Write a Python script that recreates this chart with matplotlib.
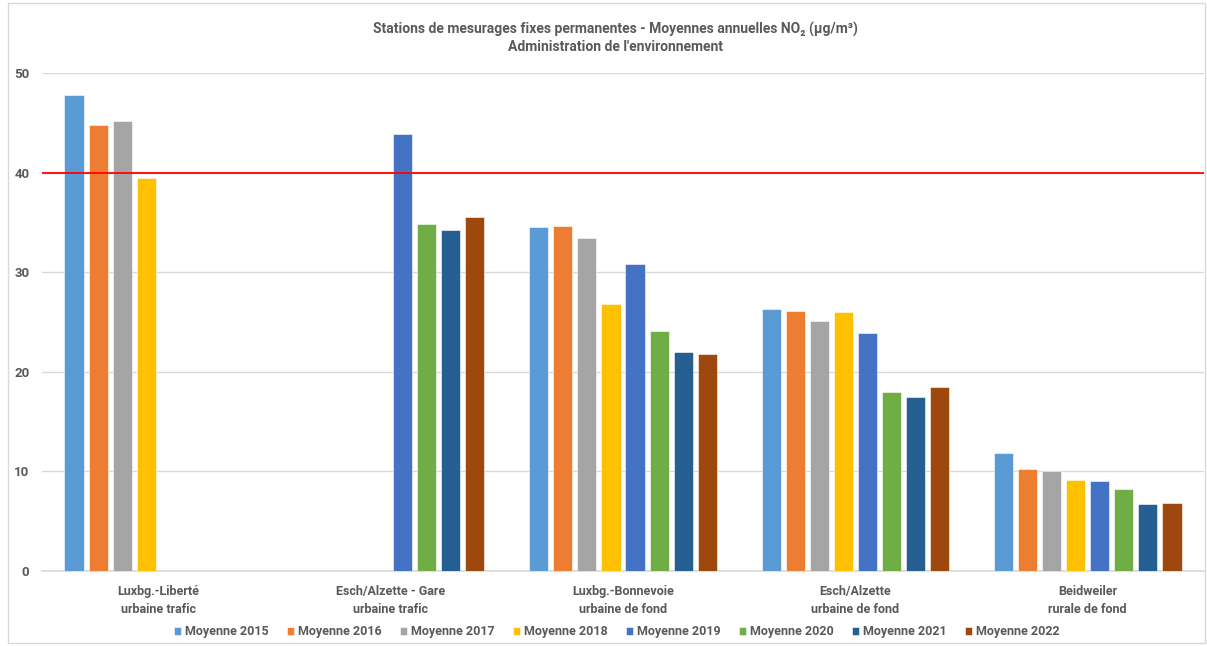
import matplotlib
matplotlib.use('Agg')
import matplotlib.pyplot as plt
from matplotlib.patches import Rectangle
import numpy as np

plt.rcParams['font.family'] = ['Roboto', 'DejaVu Sans']

stations = ['Luxbg.-Liberté\nurbaine trafic', 'Esch/Alzette - Gare\nurbaine trafic',
            'Luxbg.-Bonnevoie\nurbaine de fond', 'Esch/Alzette\nurbaine de fond',
            'Beidweiler\nrurale de fond']
years = ['Moyenne 2015', 'Moyenne 2016', 'Moyenne 2017', 'Moyenne 2018',
         'Moyenne 2019', 'Moyenne 2020', 'Moyenne 2021', 'Moyenne 2022']
colors = ['#5B9BD5', '#ED7D31', '#A5A5A5', '#FFC000',
          '#4472C4', '#70AD47', '#255E91', '#9E480E']

# une liste par année (nan = pas de mesure)
nan = np.nan
m2015 = [47.8, nan, 34.5, 26.3, 11.8]
m2016 = [44.8, nan, 34.6, 26.1, 10.2]
m2017 = [45.2, nan, 33.4, 25.1, 10.0]
m2018 = [39.5, nan, 26.8, 26.0, 9.1]
m2019 = [nan, 43.9, 30.8, 23.9, 9.0]
m2020 = [nan, 34.8, 24.1, 18.0, 8.2]
m2021 = [nan, 34.2, 22.0, 17.5, 6.7]
m2022 = [nan, 35.5, 21.8, 18.5, 6.8]
series = [m2015, m2016, m2017, m2018, m2019, m2020, m2021, m2022]
limite = 40  # valeur limite annuelle

grey = '#595959'

fig = plt.figure(figsize=(12.07, 6.46), dpi=100)
ax = fig.add_axes([42 / 1207, 1 - 571 / 646, (1204 - 42) / 1207, (571 - 73) / 646])

x = np.arange(len(stations))
step = 0.1035
width = 0.082
for i, (vals, col, lab) in enumerate(zip(series, colors, years)):
    ax.bar(x + (i - 3.5) * step, vals, width, color=col, label=lab,
           edgecolor='white', linewidth=0.4, zorder=3)

ax.axhline(limite, color='#FF0000', lw=1.3, zorder=4)

ax.set_xlim(-0.5, len(stations) - 0.5)
ax.set_ylim(0, 50)
ax.set_yticks(np.arange(0, 51, 10))
ax.grid(axis='y', color='#D9D9D9', lw=1, zorder=0)
ax.set_xticks(x)
ax.set_xticklabels(stations, fontsize=9, fontweight='bold', color=grey, linespacing=1.5)
ax.tick_params(axis='both', length=0, labelcolor=grey)
ax.tick_params(axis='x', pad=10)
ax.tick_params(axis='y', pad=9)
for t in ax.get_yticklabels():
    t.set_fontsize(9.5)
    t.set_fontweight('bold')
for s in ['top', 'right', 'left']:
    ax.spines[s].set_visible(False)
ax.spines['bottom'].set_color('#D9D9D9')
ax.spines['bottom'].set_linewidth(1.2)

fig.text(615 / 1207, 1 - 29 / 646,
         "Stations de mesurages fixes permanentes - Moyennes annuelles NO\u2082 (µg/m³)",
         ha='center', va='center', fontsize=10, fontweight='bold', color=grey)
fig.text(615 / 1207, 1 - 47 / 646, "Administration de l'environnement",
         ha='center', va='center', fontsize=10, fontweight='bold', color=grey)

fig.legend(loc='center', bbox_to_anchor=(617 / 1207, 1 - 632 / 646), ncol=8,
           frameon=False, handlelength=0.55, handleheight=0.55, handletextpad=0.3,
           columnspacing=1.5, prop={'size': 9, 'weight': 'bold'}, labelcolor=grey)

fig.patches.append(Rectangle((8 / 1207, 0.005), 1 - 10 / 1207, 0.99, transform=fig.transFigure,
                             fill=False, edgecolor='#D9D9D9', lw=1))

fig.savefig('out.png', dpi=100)
